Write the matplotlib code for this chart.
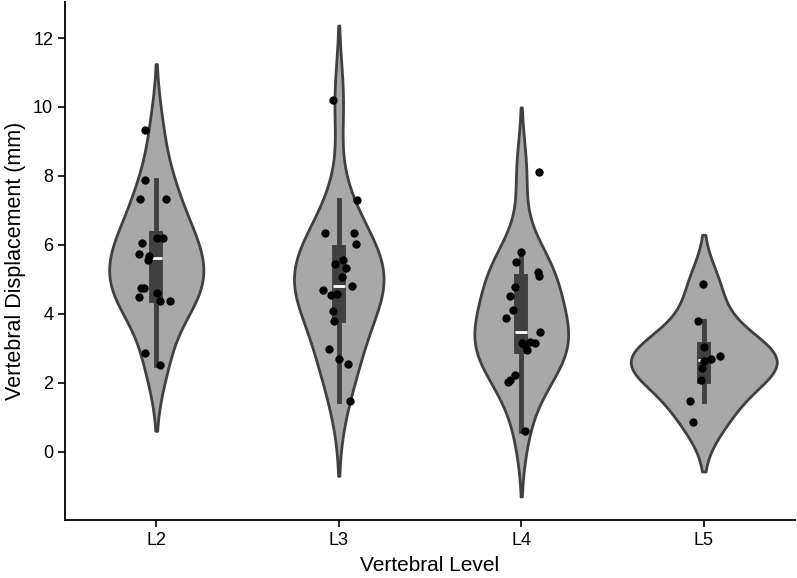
import numpy as np
import pandas as pd
import matplotlib
matplotlib.use("Agg")
import matplotlib.pyplot as plt
import seaborn as sns

plt.rcParams['font.family'] = ['Liberation Sans', 'DejaVu Sans']

levels = ['L2', 'L3', 'L4', 'L5']

# displacement (mm), one list per level
disp_l2 = [9.33, 7.88, 7.33, 7.33, 6.2, 6.2, 6.05, 5.74, 5.68, 5.57,
           4.75, 4.75, 4.5, 4.6, 4.38, 4.38, 2.87, 2.52]
disp_l3 = [10.2, 7.3, 6.34, 6.34, 6.02, 5.55, 5.44, 5.32, 5.06, 4.82,
           4.68, 4.55, 4.57, 4.09, 3.78, 2.98, 2.7, 2.54, 1.46]
disp_l4 = [8.1, 5.78, 5.5, 5.21, 5.11, 4.79, 4.52, 4.12, 3.89, 3.46,
           3.15, 3.17, 3.15, 3.1, 2.96, 2.23, 2.01, 2.08, 0.59]
disp_l5 = [4.87, 3.8, 3.05, 2.69, 2.78, 2.62, 2.43, 2.09, 1.46, 0.85]

# horizontal jitter of the strip points (category units), as seen
jit_l2 = [-0.064, -0.064, -0.091, 0.052, 0.002, 0.035, -0.08, -0.096, -0.042, -0.047,
          -0.086, -0.069, -0.096, 0.002, 0.019, 0.073, -0.064, 0.019]
jit_l3 = [-0.029, 0.099, -0.076, 0.084, 0.097, 0.024, -0.02, 0.042, 0.017, 0.072,
          -0.089, -0.043, -0.007, -0.029, -0.025, -0.053, 0.002, 0.048, 0.061]
jit_l4 = [0.097, -0.003, -0.027, 0.092, 0.097, -0.035, -0.062, -0.043, -0.086, 0.101,
          0.006, 0.046, 0.073, 0.02, 0.033, -0.036, -0.073, -0.064, 0.022]
jit_l5 = [-0.004, -0.031, 0.0, 0.042, 0.088, 0.0, -0.007, -0.016, -0.073, -0.059]

all_disp = [disp_l2, disp_l3, disp_l4, disp_l5]
all_jit = [jit_l2, jit_l3, jit_l4, jit_l5]

df = pd.DataFrame({
    'level': np.repeat(levels, [len(d) for d in all_disp]),
    'disp': np.concatenate(all_disp),
})

fig = plt.figure(figsize=(7.97, 5.78), dpi=100)
ax = fig.add_axes([65 / 797, 1 - 520 / 578, 730 / 797, 518 / 578])

sns.violinplot(data=df, x='level', y='disp', order=levels, color='#a8a8a8',
               linecolor='#404040', linewidth=2, inner='box', saturation=1,
               inner_kws=dict(box_width=10, whis_width=3.5), ax=ax)

for i, (d, j) in enumerate(zip(all_disp, all_jit)):
    ax.scatter(i + np.array(j), d, s=36, color='black', linewidths=0, zorder=5)

ax.set_xlim(-0.5, 3.5)
ax.set_yticks([0, 2, 4, 6, 8, 10, 12])
ax.set_xlabel('Vertebral Level', fontsize=15, labelpad=5)
ax.set_ylabel('Vertebral Displacement (mm)', fontsize=15.5, labelpad=5)
ax.tick_params(labelsize=13, length=5, width=1.2)
for s in ['left', 'bottom']:
    ax.spines[s].set_linewidth(1.3)
sns.despine(ax=ax)

fig.savefig('out.png', dpi=100)
